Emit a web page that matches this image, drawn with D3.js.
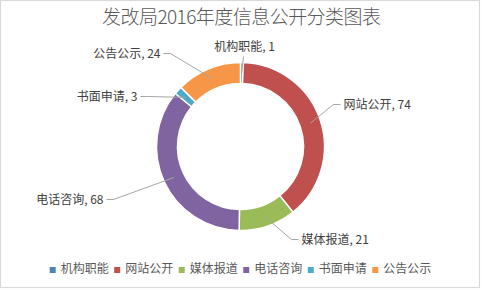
<!DOCTYPE html>
<html lang="zh">
<head>
    <meta charset="UTF-8">
    <title>发改局2016年度信息公开分类图表</title>
    <script src="https://cdn.jsdelivr.net/npm/d3@7/dist/d3.min.js"></script>
    <style>
        body { margin: 0; background: #fff; }
        text { font-family: "Noto Sans CJK SC", "Noto Sans", sans-serif; }
    </style>
</head>
<body>
    <div id="chart"></div>

    <script>
        // data
        const categories = ["机构职能", "网站公开", "媒体报道", "电话咨询", "书面申请", "公告公示"];
        const values = [1, 74, 21, 68, 3, 24];
        const colors = ["#4F81BD", "#C0504D", "#9BBB59", "#8064A2", "#4BACC6", "#F79646"];
        const title = "发改局2016年度信息公开分类图表";

        const width = 482, height = 290;
        const cx = 240.5, cy = 146.5;
        const outerR = 84, innerR = 63;

        // where Excel put each data label, relative to the centre
        const labelAt = [
            { dx: 4, dy: -100, anchor: "middle" },
            { dx: 103, dy: -42, anchor: "start" },
            { dx: 61, dy: 93, anchor: "start" },
            { dx: -137, dy: 53, anchor: "end" },
            { dx: -103, dy: -50, anchor: "end" },
            { dx: -80, dy: -93, anchor: "end" }
        ];

        const svg = d3.select("#chart")
            .append("svg")
            .attr("width", width)
            .attr("height", height);

        svg.append("rect")
            .attr("x", 0.5).attr("y", 0.5)
            .attr("width", 479).attr("height", 287)
            .attr("fill", "#fff")
            .attr("stroke", "#d9d9d9")
            .attr("stroke-width", 1.2);

        svg.append("text")
            .attr("x", 241.5)
            .attr("y", 17)
            .attr("dy", "0.35em")
            .attr("text-anchor", "middle")
            .attr("font-size", 19)
            .attr("font-weight", 300)
            .attr("textLength", 279)
            .attr("lengthAdjust", "spacing")
            .attr("fill", "#595959")
            .text(title);

        const data = categories.map((c, i) => ({ name: c, value: values[i], color: colors[i] }));

        const pie = d3.pie().sort(null).value(d => d.value);
        const arc = d3.arc().innerRadius(innerR).outerRadius(outerR);
        const arcs = pie(data);

        const g = svg.append("g").attr("transform", `translate(${cx},${cy})`);

        g.selectAll("path.slice")
            .data(arcs)
            .enter()
            .append("path")
            .attr("class", "slice")
            .attr("d", arc)
            .attr("fill", d => d.data.color)
            .attr("stroke", "#fff")
            .attr("stroke-width", 1.5);

        // leader lines: label -> short horizontal -> middle of the ring
        g.selectAll("path.leader")
            .data(arcs)
            .enter()
            .append("path")
            .attr("class", "leader")
            .attr("fill", "none")
            .attr("stroke", "#a6a6a6")
            .attr("stroke-width", 1)
            .attr("d", (d, i) => {
                const p = arc.centroid(d);
                const L = labelAt[i];
                if (L.anchor === "middle") {
                    return `M${L.dx - 1},${L.dy + 10}L${p[0]},${p[1]}`;
                }
                const s = L.anchor === "start" ? -1 : 1;
                const x0 = L.dx + s * 3, x1 = L.dx + s * 10;
                return `M${x0},${L.dy}L${x1},${L.dy}L${p[0]},${p[1]}`;
            });

        g.selectAll("text.label")
            .data(arcs)
            .enter()
            .append("text")
            .attr("class", "label")
            .attr("x", (d, i) => labelAt[i].dx)
            .attr("y", (d, i) => labelAt[i].dy)
            .attr("dy", "0.35em")
            .attr("text-anchor", (d, i) => labelAt[i].anchor)
            .attr("font-size", 12)
            .attr("fill", "#404040")
            .text(d => `${d.data.name}, ${d.data.value}`);

        // legend, centred along the bottom
        const legend = svg.append("g");
        const items = legend.selectAll("g")
            .data(data)
            .enter()
            .append("g");

        items.append("rect")
            .attr("width", 6).attr("height", 6)
            .attr("y", -3)
            .attr("fill", d => d.color);

        items.append("text")
            .attr("x", 11)
            .attr("y", -1)
            .attr("dy", "0.35em")
            .attr("font-size", 12)
            .attr("fill", "#595959")
            .text(d => d.name);

        let x = 0;
        items.each(function () {
            const w = d3.select(this).select("text").node().getComputedTextLength();
            d3.select(this).attr("transform", `translate(${x},0)`);
            x += 11 + w + 5.5;
        });
        const total = x - 5.5;
        legend.attr("transform", `translate(${240.5 - total / 2},270)`);
    </script>
</body>
</html>
